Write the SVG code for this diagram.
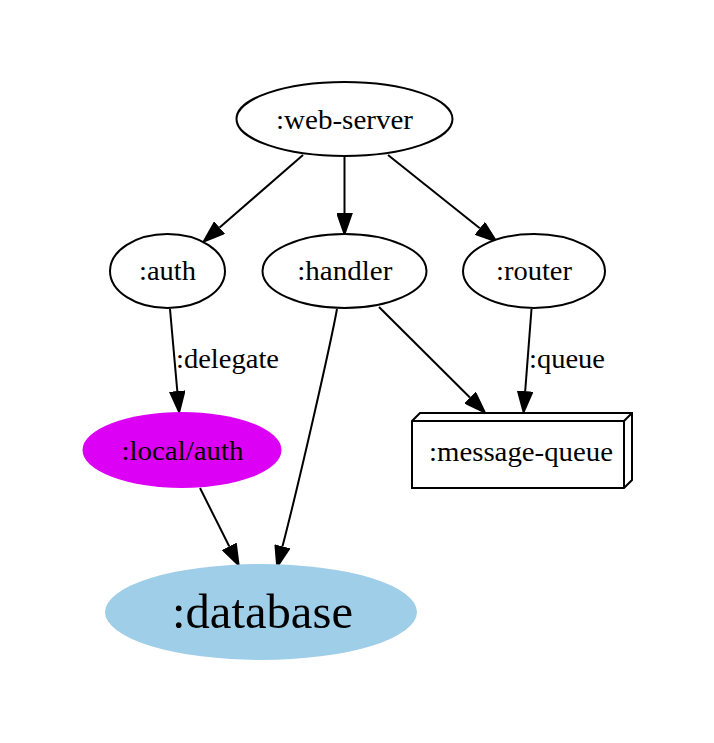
<svg xmlns="http://www.w3.org/2000/svg" width="714" height="743" viewBox="0 0 714 743">
<style>
  .lbl { font-family: "Liberation Serif", "Times New Roman", serif; font-size: 28px; fill: #000; }
  .big { font-size: 48px; }
  .outline { fill: #fff; stroke: #000; stroke-width: 2; }
  .edge { fill: none; stroke: #000; stroke-width: 2; }
</style>
<defs>
  <marker id="arrow" markerUnits="userSpaceOnUse" viewBox="0 0 22 16" refX="0" refY="8" markerWidth="22" markerHeight="16" orient="auto">
    <path d="M1,1 L21,8 L1,15 z" fill="#000" stroke="#000" stroke-width="2" stroke-linejoin="miter"/>
  </marker>
</defs>
<rect x="0" y="0" width="714" height="743" fill="#fff"/>

<g id="connectors">
  <line class="edge" x1="303" y1="155" x2="219.6" y2="227.6" marker-end="url(#arrow)"/>
  <line class="edge" x1="344.5" y1="157" x2="344.5" y2="213" marker-end="url(#arrow)"/>
  <line class="edge" x1="388" y1="155" x2="479.8" y2="228.3" marker-end="url(#arrow)"/>
  <line class="edge" x1="170" y1="309" x2="177.3" y2="391.1" marker-end="url(#arrow)"/>
  <text class="lbl" x="176" y="368" textLength="103" lengthAdjust="spacingAndGlyphs">:delegate</text>
  <path class="edge" d="M337,309 C331,342 301,475 282.5,546.3" marker-end="url(#arrow)"/>
  <line class="edge" x1="379" y1="307" x2="469.9" y2="397.5" marker-end="url(#arrow)"/>
  <line class="edge" x1="531.5" y1="309" x2="525.2" y2="391.1" marker-end="url(#arrow)"/>
  <text class="lbl" x="529" y="368" textLength="76" lengthAdjust="spacingAndGlyphs">:queue</text>
  <line class="edge" x1="200" y1="488" x2="229.2" y2="546.3" marker-end="url(#arrow)"/>
</g>

<g id="web-server">
  <ellipse class="outline" cx="344.5" cy="119" rx="108" ry="37"/>
  <text class="lbl" x="344.5" y="129" text-anchor="middle" textLength="137" lengthAdjust="spacingAndGlyphs">:web-server</text>
</g>
<g id="auth">
  <ellipse class="outline" cx="167.5" cy="271" rx="57.5" ry="37"/>
  <text class="lbl" x="167.5" y="280" text-anchor="middle" textLength="57" lengthAdjust="spacingAndGlyphs">:auth</text>
</g>
<g id="handler">
  <ellipse class="outline" cx="344.5" cy="271" rx="82" ry="37"/>
  <text class="lbl" x="344.8" y="280" text-anchor="middle" textLength="95" lengthAdjust="spacingAndGlyphs">:handler</text>
</g>
<g id="router">
  <ellipse class="outline" cx="534" cy="271" rx="71" ry="37"/>
  <text class="lbl" x="534" y="280" text-anchor="middle" textLength="76" lengthAdjust="spacingAndGlyphs">:router</text>
</g>
<g id="local-auth">
  <ellipse cx="182" cy="450" rx="99.5" ry="38" fill="#dc00f5"/>
  <text class="lbl" x="182.5" y="460" text-anchor="middle" textLength="122" lengthAdjust="spacingAndGlyphs">:local/auth</text>
</g>
<g id="message-queue">
  <path class="outline" d="M412,421 L420,413 L632,413 L632,480 L624,488 L412,488 Z" stroke-linejoin="miter"/>
  <path class="edge" d="M412,421 L624,421 L624,488 M624,421 L632,413"/>
  <text class="lbl" x="429" y="461" textLength="184" lengthAdjust="spacingAndGlyphs">:message-queue</text>
</g>
<g id="database">
  <ellipse cx="261" cy="612" rx="156" ry="48" fill="#9fcee9"/>
  <text class="lbl big" x="262.5" y="628" text-anchor="middle" textLength="181" lengthAdjust="spacingAndGlyphs">:database</text>
</g>
</svg>
